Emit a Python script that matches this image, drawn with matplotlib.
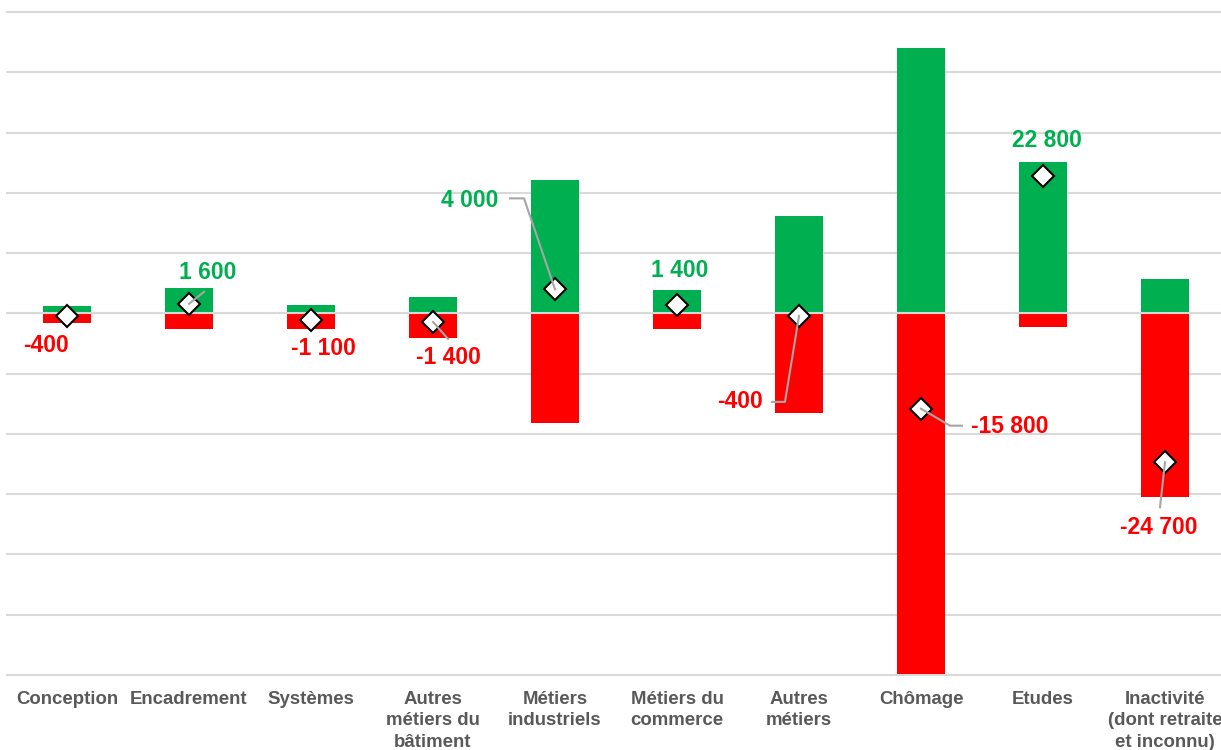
import numpy as np
import matplotlib.pyplot as plt
from matplotlib.transforms import IdentityTransform

plt.rcParams['font.family'] = ['Liberation Sans', 'DejaVu Sans']

categories = ["Conception", "Encadrement", "Systèmes", "Autres\nmétiers du\nbâtiment",
              "Métiers\nindustriels", "Métiers du\ncommerce", "Autres\nmétiers",
              "Chômage", "Etudes", "Inactivité\n(dont retraite\net inconnu)"]
entrees = [1200, 4200, 1400, 2700, 22100, 3900, 16200, 44000, 25100, 5700]
sorties = [-1600, -2600, -2500, -4100, -18100, -2500, -16600, -59800, -2300, -30400]
solde = [-400, 1600, -1100, -1400, 4000, 1400, -400, -15800, 22800, -24700]
solde_labels = ["-400", "1 600", "-1 100", "-1 400", "4 000", "1 400", "-400",
                "-15 800", "22 800", "-24 700"]

# label offsets from the diamond, in pixels (x right, y up)
label_offsets = [(-21, -30), (19, 31), (12, -28), (15, -36), (-85, 89),
                 (3, 35), (-59, -86), (89, -18), (4, 36), (-6, -65)]
# leader lines (pixel offsets from the diamond)
leaders = {1: [(0, 0), (15, 12)],
           3: [(0, 0), (15, -17)],
           4: [(0, 0), (-31, 91), (-45, 91)],
           6: [(0, 0), (-14, -86), (-27, -86)],
           7: [(0, 0), (29, -17), (41, -17)],
           9: [(0, 0), (-5, -45)]}

green = "#00B050"
red = "#FF0000"

fig = plt.figure(figsize=(12.21, 7.5), dpi=100)
ax = fig.add_axes([6 / 1221, 0.092, 1220 / 1221, 0.99173 - 0.092])
x = np.arange(len(categories))

ax.bar(x, entrees, width=0.4, color=green, zorder=2)
ax.bar(x, sorties, width=0.4, color=red, zorder=2)
ax.axhline(0, color="#D9D9D9", lw=1.5, zorder=3)

ax.set_xlim(-0.5, 9.5)
ax.set_ylim(-61000, 51000)
ax.set_yticks(np.arange(-60000, 50001, 10000))
ax.yaxis.grid(True, color="#D9D9D9", lw=1.5, zorder=0)
ax.set_axisbelow(True)
ax.tick_params(axis="y", left=False, labelleft=False)
ax.tick_params(axis="x", length=0, pad=7)
ax.set_xticks(x)
ax.set_xticklabels(categories, fontsize=13.4, fontweight="bold", color="#595959",
                   linespacing=1.35, va="top")
for s in ax.spines.values():
    s.set_visible(False)

ax.plot(x, solde, linestyle="none", marker="D", markersize=11,
        markerfacecolor="white", markeredgecolor="black", markeredgewidth=1.5, zorder=4)

for i in range(len(categories)):
    col = green if solde[i] > 0 else red
    ax.annotate(solde_labels[i], xy=(x[i], solde[i]), xytext=label_offsets[i],
                textcoords="offset pixels", ha="center", va="center",
                fontsize=16.5, fontweight="bold", color=col, zorder=6)

fig.canvas.draw()
for i, pts in leaders.items():
    cx, cy = ax.transData.transform((x[i], solde[i]))
    xs = [cx + p[0] for p in pts]
    ys = [cy + p[1] for p in pts]
    fig.lines.append(plt.Line2D(xs, ys, transform=IdentityTransform(),
                                color="#A6A6A6", lw=1.5, zorder=5))

fig.savefig("out.png", dpi=100)
